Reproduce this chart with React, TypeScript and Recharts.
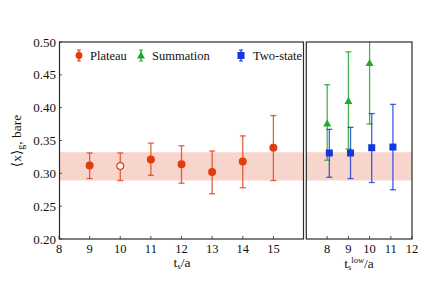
import { ComposedChart, Scatter, ErrorBar, XAxis, YAxis, ReferenceArea } from 'recharts';

// plateau fits vs t_s/a
const plateauT = [9, 10, 11, 12, 13, 14, 15];
const plateauVal = [0.312, 0.311, 0.321, 0.314, 0.302, 0.318, 0.339];
const plateauLo = [0.292, 0.289, 0.297, 0.285, 0.269, 0.278, 0.289];
const plateauHi = [0.331, 0.331, 0.346, 0.342, 0.334, 0.357, 0.388];
const plateauOpen = [false, true, false, false, false, false, false];

// summation + two-state vs t_s^low/a
const summationT = [8, 9, 10];
const summationVal = [0.376, 0.41, 0.468];
const summationLo = [0.32, 0.337, 0.375];
const summationHi = [0.435, 0.485, 0.56];

const twoStateT = [8.1, 9.1, 10.1, 11.1];
const twoStateVal = [0.331, 0.331, 0.339, 0.34];
const twoStateLo = [0.294, 0.292, 0.286, 0.275];
const twoStateHi = [0.367, 0.37, 0.391, 0.405];

const band = [0.289, 0.332];
const yTicks = [0.2, 0.25, 0.3, 0.35, 0.4, 0.45, 0.5];
const leftXTicks = [8, 9, 10, 11, 12, 13, 14, 15];
const rightXTicks = [8, 9, 10, 11, 12];

const RED = '#e03c0e';
const GREEN = '#22a82a';
const BLUE = '#1237dc';
const BAND = '#f8d5cc';
const AXIS = '#2a2a2a';
const FONT = 'Liberation Serif, DejaVu Serif, serif';
const txt = { fontFamily: FONT };

const build = (t: number[], v: number[], lo: number[], hi: number[], open?: boolean[]) =>
  t.map((x, i) => ({ x, y: v[i], err: [v[i] - lo[i], hi[i] - v[i]], open: open ? open[i] : false }));

const plateau = build(plateauT, plateauVal, plateauLo, plateauHi, plateauOpen);
const summation = build(summationT, summationVal, summationLo, summationHi);
const twoState = build(twoStateT, twoStateVal, twoStateLo, twoStateHi);

const BottomTick = (props: any) => {
  const { x, y, payload } = props;
  return (
    <g>
      <line x1={x} x2={x} y1={y} y2={y - 3} stroke={AXIS} strokeWidth={0.8} />
      <text x={x} y={y + 14} textAnchor="middle" fontSize={12.5} style={txt} fill="#111">
        {payload.value}
      </text>
    </g>
  );
};

const TopTick = (props: any) => {
  const { x, y } = props;
  return <line x1={x} x2={x} y1={y} y2={y + 3} stroke={AXIS} strokeWidth={0.8} />;
};

const LeftTick = (props: any) => {
  const { x, y, payload, showLabel } = props;
  return (
    <g>
      <line x1={x} x2={x + 3} y1={y} y2={y} stroke={AXIS} strokeWidth={0.8} />
      {showLabel && (
        <text x={x - 3} y={y + 4.5} textAnchor="end" fontSize={13} style={txt} fill="#111">
          {payload.value.toFixed(2)}
        </text>
      )}
    </g>
  );
};

const CircleShape = (props: any) => {
  const { cx, cy, payload } = props;
  return <circle cx={cx} cy={cy} r={3.4} fill={payload.open ? '#fff' : RED} stroke={RED} strokeWidth={1.2} />;
};

const TriangleShape = (props: any) => {
  const { cx, cy } = props;
  const s = 4;
  return <polygon points={`${cx},${cy - s} ${cx - s},${cy + s * 0.75} ${cx + s},${cy + s * 0.75}`} fill={GREEN} />;
};

const SquareShape = (props: any) => {
  const { cx, cy } = props;
  return <rect x={cx - 3.5} y={cy - 3.5} width={7} height={7} fill={BLUE} />;
};

function Panel(props: { domain: number[]; ticks: number[]; showY: boolean; children: any; margin: any; width: number }) {
  const { domain, ticks, showY, children, margin, width } = props;
  return (
    <ComposedChart width={width} height={282} margin={margin}>
      <XAxis
        xAxisId="b"
        dataKey="x"
        type="number"
        domain={domain}
        ticks={ticks}
        allowDataOverflow
        height={30}
        tickLine={false}
        tickSize={0}
        tickMargin={0}
        axisLine={false}
        tick={<BottomTick />}
        interval={0}
      />
      <XAxis
        xAxisId="t"
        orientation="top"
        dataKey="x"
        type="number"
        domain={domain}
        ticks={ticks}
        allowDataOverflow
        height={0}
        tickLine={false}
        tickSize={0}
        tickMargin={0}
        axisLine={false}
        tick={<TopTick />}
        interval={0}
      />
      <YAxis
        yAxisId="l"
        dataKey="y"
        type="number"
        domain={[0.2, 0.5]}
        ticks={yTicks}
        allowDataOverflow
        width={showY ? 59 : 0}
        tickLine={false}
        tickSize={0}
        tickMargin={0}
        axisLine={false}
        tick={<LeftTick showLabel={showY} />}
        interval={0}
      />
      <ReferenceArea
        xAxisId="b"
        yAxisId="l"
        x1={domain[0]}
        x2={domain[1]}
        y1={band[0]}
        y2={band[1]}
        fill={BAND}
        fillOpacity={1}
        stroke="none"
        ifOverflow="hidden"
      />
      {children}
    </ComposedChart>
  );
}

export default function App() {
  return (
    <div style={{ position: 'absolute', left: 0, top: 0, width: 423, height: 282, background: '#fff', fontFamily: FONT }}>
      <div style={{ position: 'absolute', left: 0, top: 0 }}>
        <Panel domain={[8, 16]} ticks={leftXTicks} showY width={305} margin={{ top: 42, right: 1, bottom: 13, left: 0 }}>
          <Scatter xAxisId="b" yAxisId="l" data={plateau} shape={<CircleShape />} isAnimationActive={false}>
            <ErrorBar dataKey="err" direction="y" width={3} stroke={RED} strokeOpacity={0.8} strokeWidth={1.3} />
          </Scatter>
        </Panel>
      </div>
      <div style={{ position: 'absolute', left: 300, top: 0 }}>
        <Panel domain={[7, 12]} ticks={rightXTicks} showY={false} width={123} margin={{ top: 42, right: 11, bottom: 13, left: 6 }}>
          <Scatter xAxisId="b" yAxisId="l" data={summation} shape={<TriangleShape />} isAnimationActive={false}>
            <ErrorBar dataKey="err" direction="y" width={3} stroke={GREEN} strokeOpacity={0.85} strokeWidth={1.3} />
          </Scatter>
          <Scatter xAxisId="b" yAxisId="l" data={twoState} shape={<SquareShape />} isAnimationActive={false}>
            <ErrorBar dataKey="err" direction="y" width={3} stroke={BLUE} strokeOpacity={0.8} strokeWidth={1.3} />
          </Scatter>
        </Panel>
      </div>
      <svg width={423} height={282} style={{ position: 'absolute', left: 0, top: 0, pointerEvents: 'none' }}>
        {/* hide error bars running past the top of the frame */}
        <rect x={300} y={0} width={123} height={41.5} fill="#fff" />
        {/* panel frames */}
        <rect x={59.5} y={42} width={244} height={197} fill="none" stroke={AXIS} strokeWidth={1.2} />
        <rect x={306.3} y={42} width={105.7} height={197} fill="none" stroke={AXIS} strokeWidth={1.2} />
        {/* legend */}
        <g style={txt} fontSize={12.5} fill="#111">
          <line x1={79} x2={79} y1={50} y2={61} stroke={RED} strokeWidth={1.3} />
          <line x1={77} x2={81} y1={50} y2={50} stroke={RED} strokeWidth={1} />
          <line x1={77} x2={81} y1={61} y2={61} stroke={RED} strokeWidth={1} />
          <circle cx={79} cy={55.5} r={3.4} fill={RED} />
          <text x={90} y={59.5}>Plateau</text>
          <line x1={141} x2={141} y1={50} y2={61} stroke={GREEN} strokeWidth={1.3} />
          <line x1={139} x2={143} y1={50} y2={50} stroke={GREEN} strokeWidth={1} />
          <line x1={139} x2={143} y1={61} y2={61} stroke={GREEN} strokeWidth={1} />
          <polygon points="141,51.5 137,58.5 145,58.5" fill={GREEN} />
          <text x={152} y={59.5}>Summation</text>
          <line x1={241} x2={241} y1={50} y2={61} stroke={BLUE} strokeWidth={1.3} />
          <line x1={239} x2={243} y1={50} y2={50} stroke={BLUE} strokeWidth={1} />
          <line x1={239} x2={243} y1={61} y2={61} stroke={BLUE} strokeWidth={1} />
          <rect x={237.5} y={52} width={7} height={7} fill={BLUE} />
          <text x={253} y={59.5}>Two-state</text>
        </g>
        {/* axis titles */}
        <text x={21} y={141} transform="rotate(-90 21 141)" textAnchor="middle" style={txt} fontSize={13.5} fill="#111">
          ⟨x⟩<tspan fontSize={10} dy={3}>g</tspan><tspan dy={-3}>, bare</tspan>
        </text>
        <text x={182} y={267} textAnchor="middle" style={txt} fontSize={13.5} fill="#111">
          t<tspan fontSize={9} dy={2}>s</tspan><tspan dy={-2}>/a</tspan>
        </text>
        <text x={359} y={268} textAnchor="middle" style={txt} fontSize={13.5} fill="#111">
          t<tspan fontSize={8.5} dy={2}>s</tspan><tspan fontSize={8.5} dy={-7}>low</tspan><tspan dy={5}>/a</tspan>
        </text>
      </svg>
    </div>
  );
}
